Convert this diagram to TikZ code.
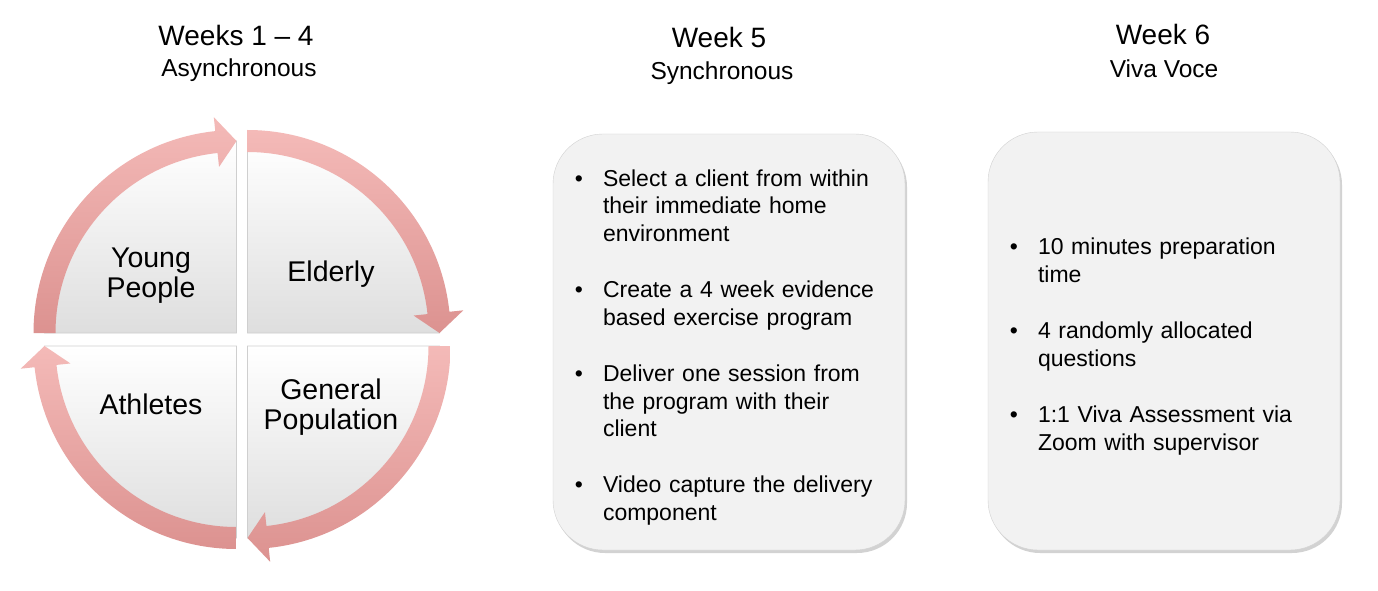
\documentclass[tikz,border=0pt]{standalone}
\usepackage{fontspec}
\setmainfont{Liberation Sans}
\usetikzlibrary{calc,positioning,shadows}
\definecolor{arrowTop}{HTML}{F4BAB8}
\definecolor{arrowBot}{HTML}{DC9290}
\definecolor{quadBot}{HTML}{DEDEDE}
\definecolor{quadLine}{HTML}{CFCFCF}
\definecolor{panelFill}{HTML}{F2F2F2}
\definecolor{panelLine}{HTML}{D2D2D2}

\newenvironment{panellist}{\begin{list}{\textbullet}{%
  \setlength{\leftmargin}{50pt}\setlength{\labelsep}{20pt}%
  \settowidth{\labelwidth}{\textbullet}\setlength{\itemsep}{28.6pt}%
  \setlength{\parsep}{0pt}\setlength{\topsep}{0pt}\setlength{\partopsep}{0pt}}}%
  {\end{list}\vspace{6pt}}

\begin{document}
\begin{tikzpicture}[
  x=1pt, y=1pt,
  head/.style={font=\fontsize{28}{33}\selectfont, anchor=base},
  subhead/.style={font=\fontsize{24.5}{29}\selectfont, anchor=base},
  quadtext/.style={font=\fontsize{28.5}{30}\selectfont, align=center},
  panel/.style={draw=panelLine, fill=panelFill, rounded corners=50pt,
    text width=352pt, inner xsep=0pt, align=left,
    font=\fontsize{23}{27.6}\selectfont,
    drop shadow={shadow xshift=2pt, shadow yshift=-3pt, opacity=.35, fill=gray}}
]
  \useasboundingbox (0,0) rectangle (1378,590);
  \fill[white] (0,0) rectangle (1378,590);

  % headings
  \node[head] (wk14) at (236,544) {Weeks 1 -- 4};
  \node[subhead] (async) at (239,513) {Asynchronous};
  \node[head] (wk5) at (719,542) {Week 5};
  \node[subhead] (sync) at (722,510) {Synchronous};
  \node[head] (wk6) at (1163,545) {Week 6};
  \node[subhead] (viva) at (1164,512) {Viva Voce};

  % cycle of four groups
  \coordinate (qyoung) at (236.5,257);
  \coordinate (qelder) at (247.5,257);
  \coordinate (qgen) at (247.5,244);
  \coordinate (qathl) at (236.5,244);

  \foreach \q/\s in {qyoung/180, qelder/90, qgen/0, qathl/270}{
    \path[top color=white, bottom color=quadBot, draw=quadLine, line width=0.8pt]
      (\q) -- ($(\q)+(\s:192)$) arc[start angle=\s, end angle=\s-90, radius=192] -- cycle;
  }
  \foreach \q/\s [evaluate=\s as \b using \s-84, evaluate=\s as \t using \s-90]
      in {qyoung/180, qelder/90, qgen/0, qathl/270}{
    \path[top color=arrowTop, bottom color=arrowBot]
      ($(\q)+(\s:203)$) arc[start angle=\s, end angle=\b, radius=203]
      -- ($(\q)+(\b:217)$) -- ($(\q)+(\t:192)$) -- ($(\q)+(\b:167)$)
      -- ($(\q)+(\b:181)$) arc[start angle=\b, end angle=\s, radius=181] -- cycle;
  }

  \node[quadtext] (young) at (151,314) {Young\\People};
  \node[quadtext] (elder) at (331,315.5) {Elderly};
  \node[quadtext] (athl) at (151,185.5) {Athletes};
  \node[quadtext] (genpop) at (331,182.5) {General\\Population};

  % week 5 and week 6 panels
  \node[panel, minimum height=416pt] (synbox) at (729,248) {%
    \begin{panellist}
      \item Select a client from within\\their immediate home\\environment
      \item Create a 4 week evidence\\based exercise program
      \item Deliver one session from\\the program with their\\client
      \item Video capture the delivery\\component
    \end{panellist}};
  \node[panel, minimum height=418pt] (vivabox) at (1164,249) {%
    \begin{panellist}
      \item 10 minutes preparation\\time
      \item 4 randomly allocated\\questions
      \item 1:1 Viva Assessment via\\Zoom with supervisor
    \end{panellist}};
\end{tikzpicture}
\end{document}
